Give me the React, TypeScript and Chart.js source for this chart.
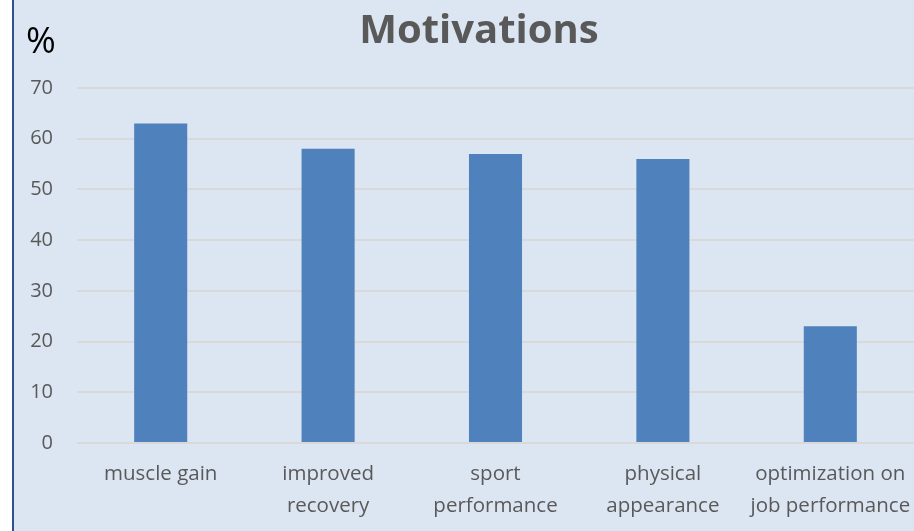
import React, { useEffect, useRef } from "react";
import { Chart, registerables } from "chart.js";

Chart.register(...registerables);

const categories: string[][] = [
  ["muscle gain"],
  ["improved", "recovery"],
  ["sport", "performance"],
  ["physical", "appearance"],
  ["optimization on", "job performance"],
];
const values: number[] = [63, 58, 57, 56, 23];
const yTicksMin = 0;
const yTicksMax = 70;
const yTickStep = 10;
const titleText = "Motivations";
const unitText = "%";

const FONT = "'Open Sans', 'Noto Sans', sans-serif";

const overlayPlugin = {
  id: "overlayText",
  afterDraw(chart: any) {
    const ctx = chart.ctx;
    ctx.save();
    ctx.fillStyle = "#595959";
    ctx.font = `bold 40px ${FONT}`;
    ctx.textAlign = "center";
    ctx.textBaseline = "alphabetic";
    ctx.fillText(titleText, 479, 43);
    ctx.fillStyle = "#000000";
    ctx.font = `36px ${FONT}`;
    ctx.textAlign = "left";
    ctx.fillText(unitText, 26, 53);
    ctx.restore();
  },
};

export default function App() {
  const ref = useRef<HTMLCanvasElement | null>(null);

  useEffect(() => {
    if (!ref.current) return;
    const chart = new Chart(ref.current, {
      type: "bar",
      data: {
        labels: categories,
        datasets: [
          {
            data: values,
            backgroundColor: "#4F81BD",
            borderWidth: 0,
            categoryPercentage: 1,
            barPercentage: 0.317,
          },
        ],
      },
      options: {
        responsive: false,
        animation: false,
        devicePixelRatio: 1,
        layout: { padding: { top: 88, left: 0, right: 0, bottom: 0 } },
        plugins: {
          legend: { display: false },
          title: { display: false },
          tooltip: { enabled: false },
        },
        scales: {
          x: {
            grid: { display: false, drawTicks: false },
            border: { display: false },
            ticks: {
              color: "#595959",
              font: { family: FONT, size: 20.5, lineHeight: 1.52 },
              padding: 16,
              maxRotation: 0,
              autoSkip: false,
            },
            afterFit: (axis: any) => {
              axis.height = 88;
              axis.paddingLeft = 0;
              axis.paddingRight = 0;
            },
          },
          y: {
            min: yTicksMin,
            max: yTicksMax,
            grid: { color: "#d9d9d9", lineWidth: 2, drawTicks: false },
            border: { display: false },
            ticks: {
              stepSize: yTickStep,
              color: "#595959",
              font: { family: FONT, size: 20 },
              padding: 24,
            },
            afterFit: (axis: any) => {
              axis.width = 77;
              axis.paddingTop = 0;
              axis.paddingBottom = 0;
            },
          },
        },
      },
      plugins: [overlayPlugin],
    });
    return () => chart.destroy();
  }, []);

  return (
    <div
      style={{
        position: "fixed",
        left: 0,
        top: 0,
        width: 914,
        height: 531,
        background: "#ffffff",
        overflow: "hidden",
      }}
    >
      <div
        style={{
          position: "absolute",
          left: 12,
          top: 0,
          width: 902,
          height: 531,
          background: "#DCE6F2",
          borderLeft: "2px solid #2F528F",
          boxSizing: "border-box",
        }}
      />
      <canvas
        ref={ref}
        width={914}
        height={531}
        style={{ position: "absolute", left: 0, top: 0, width: 914, height: 531 }}
      />
    </div>
  );
}
